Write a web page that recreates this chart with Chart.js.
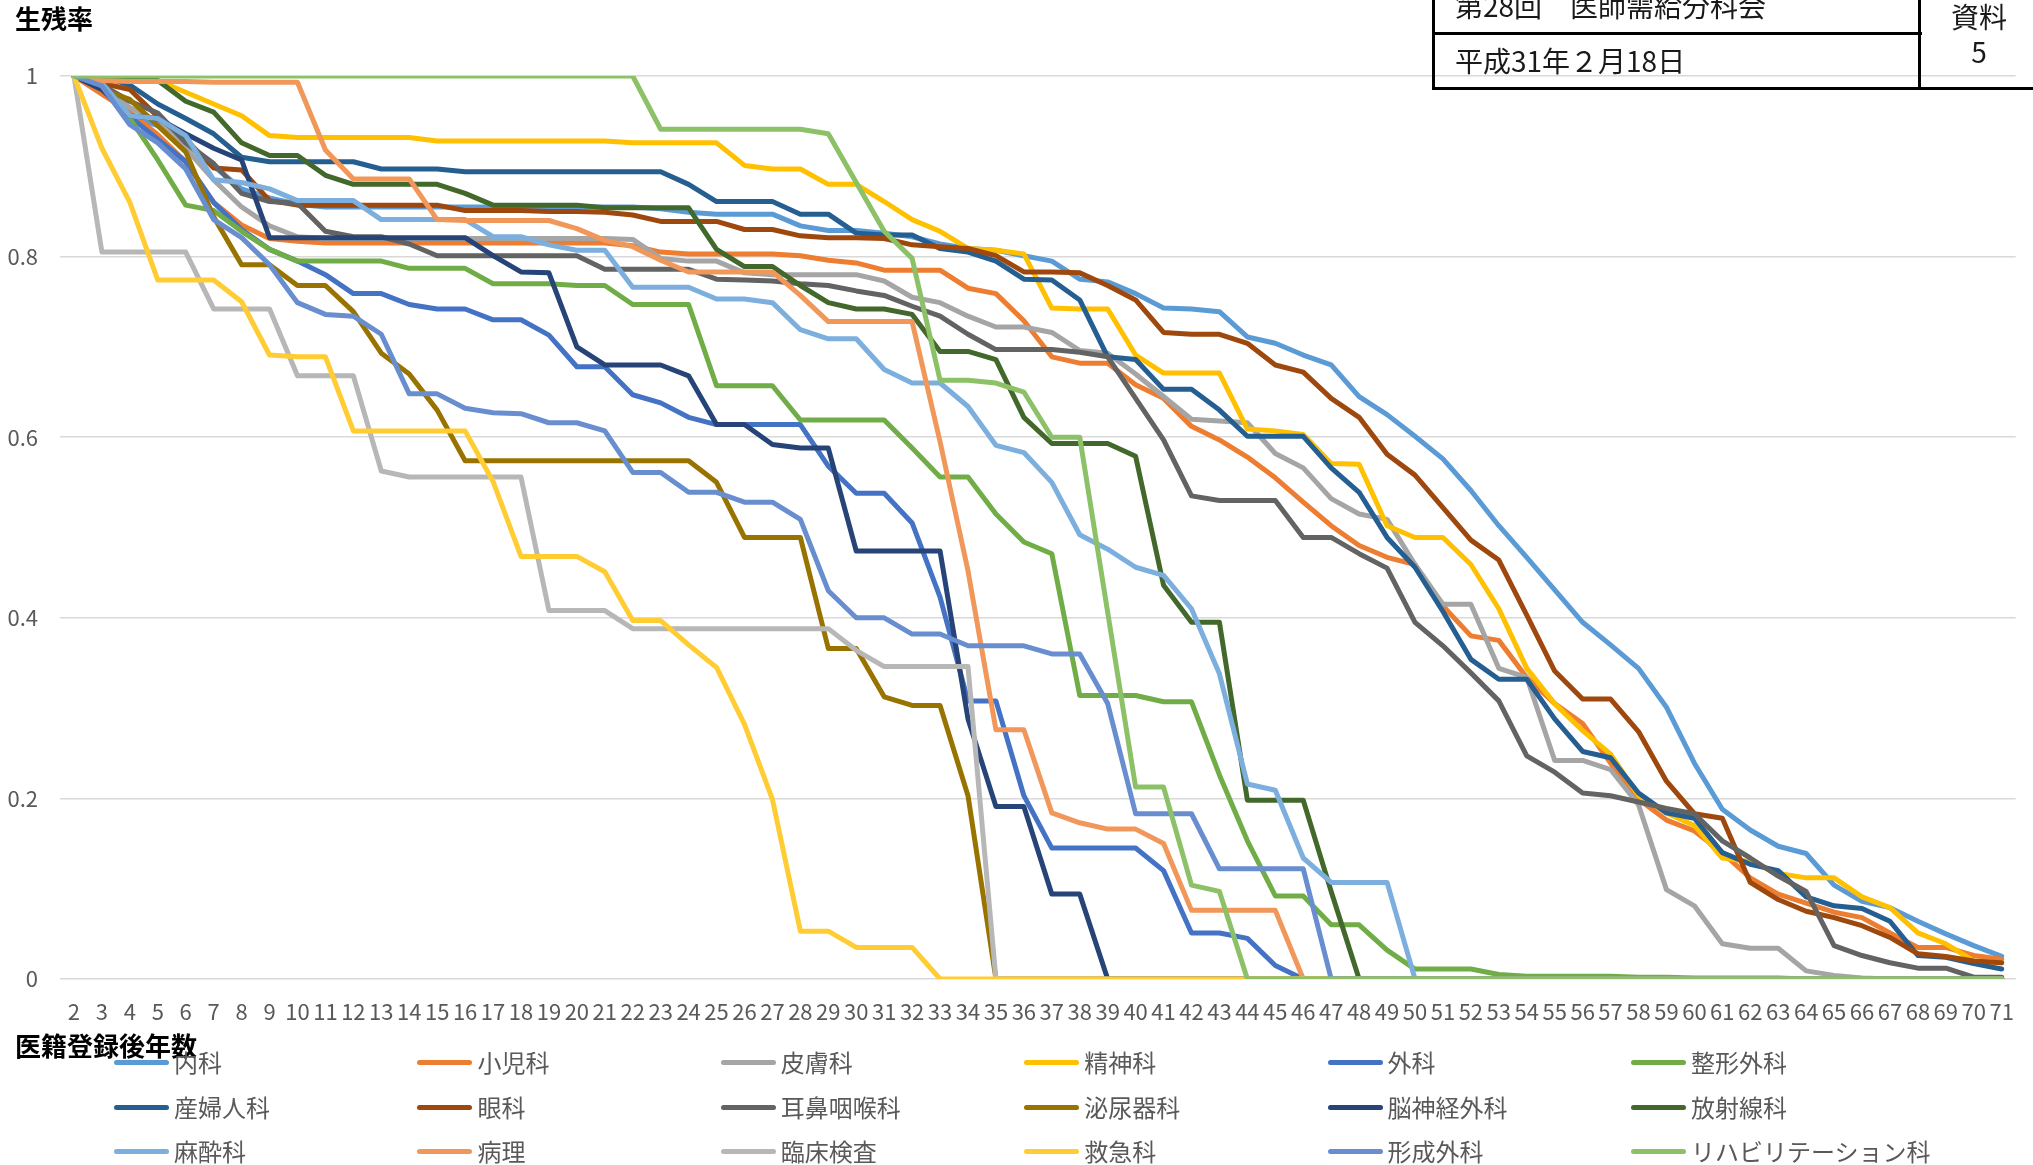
<!DOCTYPE html>
<html lang="ja">
<head>
<meta charset="utf-8">
<title>生残率</title>
<script src="https://cdn.jsdelivr.net/npm/chart.js@4.4.1/dist/chart.umd.min.js"></script>
<style>
  html, body { margin: 0; padding: 0; background: #ffffff; }
  #page {
    position: relative; width: 2033px; height: 1165px; overflow: hidden;
    font-family: "Noto Sans CJK JP", "Noto Sans", sans-serif;
  }
  #chart { position: absolute; left: 0; top: 0; }
  .label { position: absolute; white-space: nowrap; line-height: 1; }
  .ytitle { left: 15px; top: 5px; font-size: 26px; font-weight: bold; color: #000; }
  .xtitle { left: 15px; top: 1032px; font-size: 26px; font-weight: bold; color: #000; }
  .legend-item { position: absolute; height: 30px; display: flex; align-items: center; white-space: nowrap; }
  .legend-line { width: 55px; height: 5px; border-radius: 3px; margin-right: 5px; flex: none; }
  .legend-text { font-size: 24px; color: #595959; line-height: 1; }
  .box { position: absolute; border: 3px solid #000; box-sizing: border-box; }
  .rule { position: absolute; background: #000; }
  .boxtext { position: absolute; font-size: 28px; color: #1a1a1a; line-height: 1; white-space: nowrap; }
</style>
</head>
<body>
<div id="page">
  <canvas id="chart" width="2033" height="1165"></canvas>

  <div class="label ytitle">生残率</div>
  <div class="label xtitle">医籍登録後年数</div>
  <div id="legend"></div>

  <!-- meeting header block -->
  <div class="box" style="left:1432px; top:-40px; width:700px; height:130px;"></div>
  <div class="rule" style="left:1432px; top:32px; width:490px; height:3px;"></div>
  <div class="rule" style="left:1918px; top:-10px; width:3px; height:100px;"></div>
  <div class="boxtext" style="left:1455px; top:-9px;">第28回　医師需給分科会</div>
  <div class="boxtext" style="left:1455px; top:46px;">平成31年２月18日</div>
  <div class="boxtext" style="left:1921px; top:2px; width:116px; text-align:center;">資料</div>
  <div class="boxtext" style="left:1921px; top:37px; width:116px; text-align:center;">5</div>
</div>

<script>
// Years since registration (x categories)
const years = [2, 3, 4, 5, 6, 7, 8, 9, 10, 11, 12, 13, 14, 15, 16, 17, 18, 19, 20, 21,
  22, 23, 24, 25, 26, 27, 28, 29, 30, 31, 32, 33, 34, 35, 36, 37, 38, 39, 40, 41,
  42, 43, 44, 45, 46, 47, 48, 49, 50, 51, 52, 53, 54, 55, 56, 57, 58, 59, 60, 61,
  62, 63, 64, 65, 66, 67, 68, 69, 70, 71];

const yTickLabels = ['0', '0.2', '0.4', '0.6', '0.8', '1'];

const seriesNames = ['内科', '小児科', '皮膚科', '精神科', '外科', '整形外科',
  '産婦人科', '眼科', '耳鼻咽喉科', '泌尿器科', '脳神経外科', '放射線科',
  '麻酔科', '病理', '臨床検査', '救急科', '形成外科', 'リハビリテーション科'];

// Survival rate by specialty, one value per year (2..71)
const naika = [1, 0.985, 0.955, 0.945, 0.925, 0.9, 0.875, 0.865, 0.858, 0.855,
  0.855, 0.855, 0.855, 0.855, 0.855, 0.855, 0.855, 0.855, 0.855, 0.855,
  0.855, 0.853, 0.849, 0.847, 0.847, 0.847, 0.834, 0.829, 0.829, 0.826,
  0.822, 0.814, 0.809, 0.807, 0.801, 0.795, 0.775, 0.772, 0.759, 0.743,
  0.742, 0.739, 0.711, 0.704, 0.691, 0.68, 0.645, 0.625, 0.601, 0.576,
  0.541, 0.502, 0.467, 0.431, 0.395, 0.37, 0.344, 0.301, 0.239, 0.188,
  0.165, 0.147, 0.139, 0.104, 0.086, 0.079, 0.064, 0.05, 0.037, 0.025];

const shonika = [1, 0.98, 0.96, 0.935, 0.905, 0.86, 0.835, 0.82, 0.817, 0.815,
  0.815, 0.815, 0.815, 0.815, 0.815, 0.815, 0.815, 0.815, 0.815, 0.815,
  0.812, 0.805, 0.803, 0.803, 0.803, 0.803, 0.801, 0.796, 0.793, 0.785,
  0.785, 0.785, 0.765, 0.759, 0.729, 0.689, 0.682, 0.682, 0.658, 0.643,
  0.612, 0.597, 0.578, 0.555, 0.528, 0.502, 0.48, 0.467, 0.459, 0.413,
  0.38, 0.375, 0.334, 0.305, 0.283, 0.239, 0.199, 0.176, 0.164, 0.14,
  0.112, 0.094, 0.084, 0.074, 0.068, 0.051, 0.035, 0.035, 0.026, 0.022];

const hifuka = [1, 0.99, 0.965, 0.95, 0.92, 0.885, 0.855, 0.834, 0.822, 0.82,
  0.82, 0.82, 0.82, 0.82, 0.82, 0.82, 0.82, 0.82, 0.82, 0.82,
  0.819, 0.798, 0.795, 0.795, 0.782, 0.78, 0.78, 0.78, 0.78, 0.773,
  0.755, 0.749, 0.734, 0.722, 0.722, 0.716, 0.696, 0.693, 0.67, 0.645,
  0.62, 0.618, 0.616, 0.582, 0.566, 0.532, 0.515, 0.509, 0.459, 0.415,
  0.415, 0.344, 0.334, 0.242, 0.242, 0.232, 0.193, 0.099, 0.081, 0.039,
  0.034, 0.034, 0.009, 0.004, 0.001, 0, 0, 0, 0, 0];

const seishinka = [1, 1, 1, 0.995, 0.982, 0.969, 0.956, 0.934, 0.932, 0.932,
  0.932, 0.932, 0.932, 0.928, 0.928, 0.928, 0.928, 0.928, 0.928, 0.928,
  0.926, 0.926, 0.926, 0.926, 0.901, 0.897, 0.897, 0.88, 0.88, 0.861,
  0.841, 0.828, 0.809, 0.807, 0.803, 0.743, 0.742, 0.742, 0.691, 0.671,
  0.671, 0.671, 0.609, 0.607, 0.603, 0.571, 0.57, 0.502, 0.489, 0.489,
  0.459, 0.41, 0.344, 0.305, 0.275, 0.249, 0.203, 0.184, 0.17, 0.134,
  0.13, 0.117, 0.112, 0.112, 0.091, 0.079, 0.051, 0.039, 0.02, 0.018];

const geka = [1, 0.985, 0.955, 0.93, 0.905, 0.86, 0.83, 0.808, 0.795, 0.78,
  0.759, 0.759, 0.747, 0.742, 0.742, 0.73, 0.73, 0.713, 0.678, 0.678,
  0.647, 0.638, 0.622, 0.614, 0.614, 0.614, 0.614, 0.568, 0.538, 0.538,
  0.505, 0.423, 0.308, 0.308, 0.203, 0.145, 0.145, 0.145, 0.145, 0.12,
  0.051, 0.051, 0.045, 0.015, 0, 0, 0, 0, 0, 0,
  0, 0, 0, 0, 0, 0, 0, 0, 0, 0,
  0, 0, 0, 0, 0, 0, 0, 0, 0, 0];

const seikeigeka = [1, 0.995, 0.953, 0.907, 0.857, 0.851, 0.828, 0.808, 0.795, 0.795,
  0.795, 0.795, 0.787, 0.787, 0.787, 0.77, 0.77, 0.77, 0.768, 0.768,
  0.747, 0.747, 0.747, 0.657, 0.657, 0.657, 0.619, 0.619, 0.619, 0.619,
  0.588, 0.556, 0.556, 0.515, 0.484, 0.471, 0.314, 0.314, 0.314, 0.307,
  0.307, 0.226, 0.153, 0.092, 0.092, 0.06, 0.06, 0.032, 0.011, 0.011,
  0.011, 0.005, 0.003, 0.003, 0.003, 0.003, 0.002, 0.002, 0.001, 0.001,
  0.001, 0.001, 0, 0, 0, 0, 0, 0, 0, 0];

const sanfujinka = [1, 1, 0.99, 0.969, 0.953, 0.936, 0.91, 0.905, 0.905, 0.905,
  0.905, 0.897, 0.897, 0.897, 0.894, 0.894, 0.894, 0.894, 0.894, 0.894,
  0.894, 0.894, 0.88, 0.861, 0.861, 0.861, 0.847, 0.847, 0.826, 0.824,
  0.824, 0.809, 0.805, 0.795, 0.775, 0.774, 0.752, 0.689, 0.686, 0.653,
  0.653, 0.63, 0.601, 0.601, 0.601, 0.566, 0.539, 0.489, 0.456, 0.407,
  0.354, 0.332, 0.332, 0.288, 0.252, 0.245, 0.206, 0.184, 0.178, 0.14,
  0.127, 0.12, 0.091, 0.081, 0.078, 0.064, 0.026, 0.024, 0.017, 0.011];

const ganka = [1, 0.992, 0.985, 0.955, 0.93, 0.898, 0.896, 0.862, 0.857, 0.857,
  0.857, 0.857, 0.857, 0.857, 0.851, 0.851, 0.851, 0.85, 0.85, 0.849,
  0.846, 0.839, 0.839, 0.839, 0.83, 0.83, 0.823, 0.821, 0.821, 0.82,
  0.813, 0.811, 0.809, 0.801, 0.783, 0.783, 0.782, 0.768, 0.752, 0.716,
  0.714, 0.714, 0.704, 0.68, 0.672, 0.643, 0.622, 0.581, 0.558, 0.522,
  0.486, 0.464, 0.403, 0.341, 0.31, 0.31, 0.274, 0.219, 0.183, 0.178,
  0.107, 0.088, 0.075, 0.068, 0.059, 0.046, 0.028, 0.025, 0.02, 0.018];

const jibiinkoka = [1, 0.99, 0.972, 0.959, 0.926, 0.903, 0.87, 0.861, 0.859, 0.828,
  0.822, 0.822, 0.814, 0.801, 0.801, 0.801, 0.801, 0.801, 0.801, 0.786,
  0.786, 0.786, 0.786, 0.775, 0.774, 0.773, 0.77, 0.768, 0.762, 0.757,
  0.745, 0.734, 0.714, 0.697, 0.697, 0.697, 0.694, 0.689, 0.643, 0.597,
  0.535, 0.53, 0.53, 0.53, 0.489, 0.489, 0.471, 0.455, 0.395, 0.369,
  0.339, 0.308, 0.247, 0.229, 0.206, 0.203, 0.196, 0.189, 0.183, 0.153,
  0.134, 0.114, 0.097, 0.037, 0.026, 0.018, 0.012, 0.012, 0.002, 0.002];

const hinyokika = [1, 0.985, 0.974, 0.945, 0.916, 0.844, 0.791, 0.791, 0.768, 0.768,
  0.739, 0.693, 0.67, 0.63, 0.574, 0.574, 0.574, 0.574, 0.574, 0.574,
  0.574, 0.574, 0.574, 0.55, 0.489, 0.489, 0.489, 0.366, 0.366, 0.3125,
  0.303, 0.303, 0.203, 0, 0, 0, 0, 0, 0, 0,
  0, 0, 0, 0, 0, 0, 0, 0, 0, 0,
  0, 0, 0, 0, 0, 0, 0, 0, 0, 0,
  0, 0, 0, 0, 0, 0, 0, 0, 0, 0];

const noshinkeigeka = [1, 0.985, 0.956, 0.953, 0.936, 0.92, 0.907, 0.821, 0.821, 0.821,
  0.821, 0.821, 0.821, 0.821, 0.821, 0.801, 0.783, 0.782, 0.7, 0.68,
  0.68, 0.68, 0.668, 0.614, 0.614, 0.592, 0.588, 0.588, 0.474, 0.474,
  0.474, 0.474, 0.288, 0.191, 0.191, 0.094, 0.094, 0, 0, 0,
  0, 0, 0, 0, 0, 0, 0, 0, 0, 0,
  0, 0, 0, 0, 0, 0, 0, 0, 0, 0,
  0, 0, 0, 0, 0, 0, 0, 0, 0, 0];

const hoshasenka = [1, 1, 0.999, 0.995, 0.972, 0.96, 0.926, 0.912, 0.912, 0.89,
  0.88, 0.88, 0.88, 0.88, 0.87, 0.857, 0.857, 0.857, 0.857, 0.854,
  0.854, 0.854, 0.854, 0.808, 0.789, 0.789, 0.768, 0.749, 0.742, 0.742,
  0.736, 0.695, 0.695, 0.686, 0.622, 0.593, 0.593, 0.593, 0.579, 0.436,
  0.395, 0.395, 0.198, 0.198, 0.198, 0.097, 0, 0, 0, 0,
  0, 0, 0, 0, 0, 0, 0, 0, 0, 0,
  0, 0, 0, 0, 0, 0, 0, 0, 0, 0];

const masuika = [1, 0.992, 0.956, 0.953, 0.934, 0.885, 0.882, 0.875, 0.862, 0.862,
  0.862, 0.841, 0.841, 0.841, 0.841, 0.822, 0.822, 0.813, 0.807, 0.807,
  0.766, 0.766, 0.766, 0.753, 0.753, 0.749, 0.719, 0.709, 0.709, 0.675,
  0.66, 0.66, 0.634, 0.591, 0.583, 0.55, 0.492, 0.476, 0.456, 0.447,
  0.41, 0.338, 0.216, 0.209, 0.134, 0.107, 0.107, 0.107, 0, 0,
  0, 0, 0, 0, 0, 0, 0, 0, 0, 0,
  0, 0, 0, 0, 0, 0, 0, 0, 0, 0];

const byori = [1, 0.995, 0.994, 0.994, 0.994, 0.993, 0.993, 0.993, 0.993, 0.918,
  0.886, 0.886, 0.886, 0.841, 0.84, 0.84, 0.84, 0.84, 0.831, 0.818,
  0.811, 0.796, 0.783, 0.783, 0.783, 0.783, 0.757, 0.728, 0.728, 0.728,
  0.728, 0.595, 0.452, 0.276, 0.276, 0.184, 0.173, 0.166, 0.166, 0.15,
  0.076, 0.076, 0.076, 0.076, 0, 0, 0, 0, 0, 0,
  0, 0, 0, 0, 0, 0, 0, 0, 0, 0,
  0, 0, 0, 0, 0, 0, 0, 0, 0, 0];

const rinshokensa = [1, 0.805, 0.805, 0.805, 0.805, 0.742, 0.742, 0.742, 0.668, 0.668,
  0.668, 0.5625, 0.556, 0.556, 0.556, 0.556, 0.556, 0.408, 0.408, 0.408,
  0.388, 0.388, 0.388, 0.388, 0.388, 0.388, 0.388, 0.388, 0.364, 0.346,
  0.346, 0.346, 0.346, 0, 0, 0, 0, 0, 0, 0,
  0, 0, 0, 0, 0, 0, 0, 0, 0, 0,
  0, 0, 0, 0, 0, 0, 0, 0, 0, 0,
  0, 0, 0, 0, 0, 0, 0, 0, 0, 0];

const kyukyuka = [1, 0.92, 0.86, 0.774, 0.774, 0.774, 0.75, 0.691, 0.689, 0.689,
  0.607, 0.607, 0.607, 0.607, 0.607, 0.551, 0.468, 0.468, 0.468, 0.451,
  0.397, 0.397, 0.37, 0.345, 0.282, 0.199, 0.053, 0.053, 0.035, 0.035,
  0.035, 0, 0, 0, 0, 0, 0, 0, 0, 0,
  0, 0, 0, 0, 0, 0, 0, 0, 0, 0,
  0, 0, 0, 0, 0, 0, 0, 0, 0, 0,
  0, 0, 0, 0, 0, 0, 0, 0, 0, 0];

const keiseigeka = [1, 0.989, 0.946, 0.926, 0.897, 0.841, 0.821, 0.791, 0.749, 0.736,
  0.734, 0.714, 0.648, 0.648, 0.632, 0.627, 0.626, 0.616, 0.616, 0.607,
  0.561, 0.561, 0.539, 0.539, 0.528, 0.528, 0.509, 0.43, 0.4, 0.4,
  0.382, 0.382, 0.369, 0.369, 0.369, 0.36, 0.36, 0.305, 0.183, 0.183,
  0.183, 0.122, 0.122, 0.122, 0.122, 0, 0, 0, 0, 0,
  0, 0, 0, 0, 0, 0, 0, 0, 0, 0,
  0, 0, 0, 0, 0, 0, 0, 0, 0, 0];

const rehabilitation = [1, 1, 1, 1, 1, 1, 1, 1, 1, 1,
  1, 1, 1, 1, 1, 1, 1, 1, 1, 1,
  1, 0.941, 0.941, 0.941, 0.941, 0.941, 0.941, 0.936, 0.882, 0.828,
  0.798, 0.663, 0.663, 0.66, 0.65, 0.6, 0.6, 0.406, 0.2125, 0.2125,
  0.104, 0.097, 0, 0, 0, 0, 0, 0, 0, 0,
  0, 0, 0, 0, 0, 0, 0, 0, 0, 0,
  0, 0, 0, 0, 0, 0, 0, 0, 0, 0];

const seriesValues = [naika, shonika, hifuka, seishinka, geka, seikeigeka,
  sanfujinka, ganka, jibiinkoka, hinyokika, noshinkeigeka, hoshasenka,
  masuika, byori, rinshokensa, kyukyuka, keiseigeka, rehabilitation];

// Office-style palette: six accents, their darker shades, then lighter tints
const lineColors = ['#5B9BD5', '#ED7D31', '#A5A5A5', '#FFC000', '#4472C4', '#70AD47',
  '#255E91', '#9E480E', '#636363', '#997300', '#264478', '#43682B',
  '#7CAFDD', '#F1975A', '#B7B7B7', '#FFCD33', '#698ED0', '#8CC168'];

const FONT = '"Noto Sans CJK JP", "Noto Sans", sans-serif';
const n = seriesNames.length;

const datasets = seriesNames.map((name, i) => ({
  label: name,
  data: seriesValues[i],
  borderColor: lineColors[i],
  backgroundColor: lineColors[i],
  borderWidth: 5,
  pointRadius: 0,
  pointHoverRadius: 0,
  tension: 0,
  fill: false,
  borderJoinStyle: 'round',
  borderCapStyle: 'round',
  // later series are painted over earlier ones
  order: n - i
}));

new Chart(document.getElementById('chart'), {
  type: 'line',
  data: { labels: years, datasets },
  options: {
    responsive: false,
    animation: false,
    devicePixelRatio: 1,
    layout: { padding: { left: 0, right: 13, top: 76, bottom: 126 } },
    plugins: {
      legend: { display: false },
      tooltip: { enabled: false },
      title: { display: false }
    },
    scales: {
      x: {
        type: 'category',
        offset: true,
        grid: { display: false, drawTicks: false },
        border: { display: false },
        ticks: {
          autoSkip: false, maxRotation: 0, minRotation: 0,
          color: '#595959', font: { family: FONT, size: 22 }, padding: 19
        },
        afterFit(scale) { scale.height = 60; }
      },
      y: {
        min: 0, max: 1,
        grid: { color: '#D9D9D9', lineWidth: 1.5, drawTicks: false },
        border: { display: false },
        ticks: {
          stepSize: 0.2,
          color: '#595959', font: { family: FONT, size: 22 }, padding: 22,
          callback: (v, idx) => yTickLabels[idx]
        },
        afterFit(scale) { scale.width = 60; }
      }
    }
  }
});

// Legend: three rows of six entries
const legend = document.getElementById('legend');
const rowCenters = [1062, 1107, 1151];
seriesNames.forEach((name, i) => {
  const col = i % 6, row = Math.floor(i / 6);
  const item = document.createElement('div');
  item.className = 'legend-item';
  item.style.left = (114 + col * 303.4) + 'px';
  item.style.top = (rowCenters[row] - 15) + 'px';
  const line = document.createElement('span');
  line.className = 'legend-line';
  line.style.background = lineColors[i];
  const text = document.createElement('span');
  text.className = 'legend-text';
  text.textContent = name;
  item.appendChild(line);
  item.appendChild(text);
  legend.appendChild(item);
});
</script>
</body>
</html>
